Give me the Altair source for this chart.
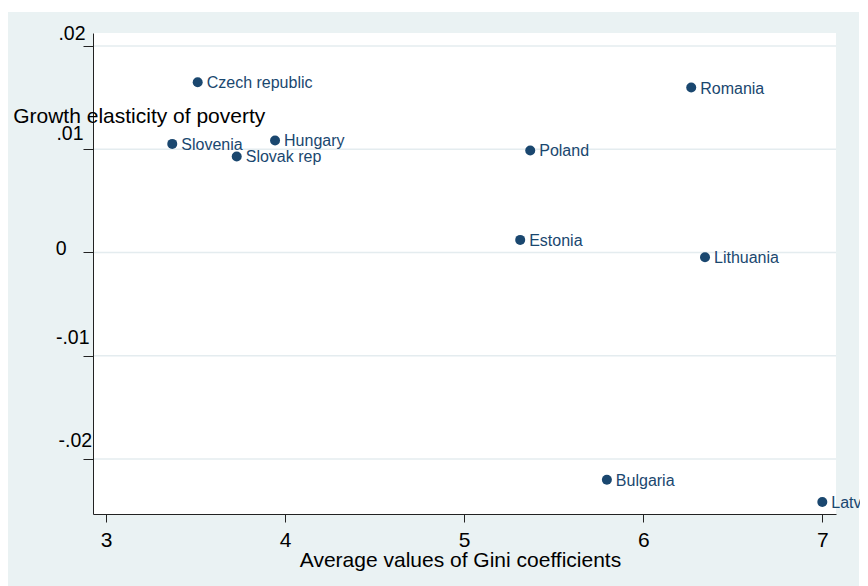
import altair as alt
import pandas as pd

countries = ["Czech republic", "Slovenia", "Hungary", "Slovak rep", "Romania",
             "Poland", "Estonia", "Lithuania", "Bulgaria", "Latvia"]
gini = [3.512, 3.370, 3.944, 3.730, 6.268, 5.369, 5.313, 6.345, 5.797, 7.000]
elasticity = [0.01649, 0.01052, 0.01085, 0.00930, 0.01598,
              0.00988, 0.00122, -0.00046, -0.02202, -0.02416]

x_ticks = [3, 4, 5, 6, 7]
y_ticks = [-0.02, -0.01, 0, 0.01, 0.02]

df = pd.DataFrame({"country": countries, "gini": gini, "elast": elasticity})
grid_df = pd.DataFrame({"elast": y_ticks})
one = pd.DataFrame({"k": [0]})

FONT = "Liberation Sans"
NAVY = "#1a476f"
BG = "#eaf2f3"
GRID = "#e4ecef"
AXC = "#222222"

W, H = 743, 481

x_scale = alt.Scale(domain=[2.9274, 7.0765], nice=False, zero=False)
y_scale = alt.Scale(domain=[-0.02533, 0.02126], nice=False, zero=False)

x_axis = alt.Axis(
    values=x_ticks, format="d", grid=False, zindex=1,
    title="Average values of Gini coefficients",
    titleFont=FONT, titleFontSize=21, titleFontWeight="normal", titleColor="black",
    titleAlign="center", titleBaseline="alphabetic", titleX=367, titleY=52,
    labelFont=FONT, labelFontSize=21, labelColor="black",
    labelBaseline="alphabetic", labelPadding=24.5,
    tickSize=8, tickColor=AXC, domainColor=AXC, domainWidth=1, tickWidth=1,
)

y_axis = alt.Axis(
    values=y_ticks, grid=False, zindex=1,
    labelExpr="datum.value > 0.0001 ? '.0' + round(datum.value*100) : (datum.value < -0.0001 ? '-.0' + round(-datum.value*100) : '0')",
    title="Growth elasticity of poverty",
    titleFont=FONT, titleFontSize=21, titleFontWeight="normal", titleColor="black",
    titleAngle=0, titleAlign="left", titleBaseline="alphabetic",
    titleX=-80.3, titleY=89.7,
    labelFont=FONT, labelFontSize=19.5, labelColor="black",
    labelAlign="right", labelBaseline="alphabetic",
    labelOffset={"condition": [
        {"test": "abs(datum.value) < 0.0001", "value": 2},
        {"test": "datum.value > 0.015", "value": -6.6},
        {"test": "datum.value > 0.005", "value": -10}],
        "value": -12.7},
    labelPadding={"condition": [
        {"test": "abs(datum.value) < 0.0001", "value": 17},
        {"test": "datum.value > 0.015", "value": -2},
        {"test": "datum.value > 0.005", "value": 0},
        {"test": "datum.value > -0.015", "value": -6}],
        "value": -8.7},
    tickSize=10, tickColor=AXC, domainColor=AXC, domainWidth=1, tickWidth=1,
)

# graph region background (Stata style) and white plot region
outer = alt.Chart(one).mark_rect(color=BG).encode(
    x=alt.value(-85), x2=alt.value(766), y=alt.value(-21), y2=alt.value(553))
inner = alt.Chart(one).mark_rect(color="white").encode(
    x=alt.value(0), x2=alt.value(W), y=alt.value(0), y2=alt.value(H))

grid = alt.Chart(grid_df).mark_rule(color=GRID, strokeWidth=1.5).encode(
    y=alt.Y("elast:Q", scale=y_scale))

points = alt.Chart(df).mark_circle(size=100, color=NAVY, opacity=1).encode(
    x=alt.X("gini:Q", scale=x_scale, axis=x_axis),
    y=alt.Y("elast:Q", scale=y_scale, axis=y_axis))

labels = alt.Chart(df).mark_text(
    align="left", baseline="middle", dx=9, dy=1,
    font=FONT, fontSize=16, color=NAVY
).encode(x=alt.X("gini:Q", scale=x_scale), y=alt.Y("elast:Q", scale=y_scale), text="country:N")

chart = alt.layer(outer, inner, grid, points, labels).properties(
    width=W, height=H,
    autosize=alt.AutoSizeParams(type="none"),
    padding={"left": 85, "top": 25, "right": 24, "bottom": 72},
    background="white",
).configure_view(stroke=None)

chart.save("out.html", embed_options={"renderer": "svg", "actions": False})
